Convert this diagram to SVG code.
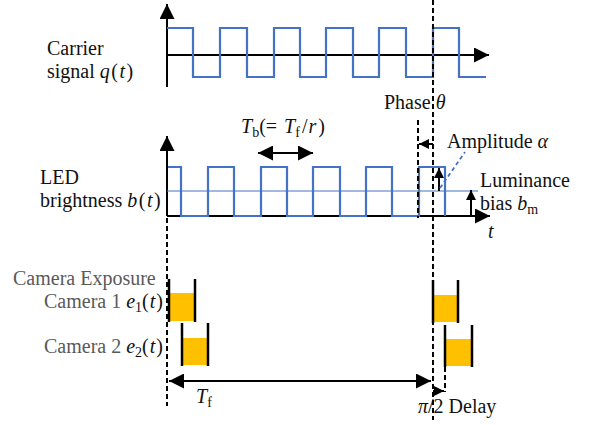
<svg xmlns="http://www.w3.org/2000/svg" width="590" height="425" viewBox="0 0 590 425">
<defs>
<style>
text{font-family:"Liberation Serif","Times New Roman",serif;font-size:20px;fill:#111}
.gray{fill:#595959}
.it{font-style:italic}
.sub{font-size:14px}
.m{letter-spacing:1.5px}
.ax{stroke:#000;stroke-width:2;fill:none}
.wave{stroke:#4472C4;stroke-width:2.2;fill:none}
.bias{stroke:#4472C4;stroke-width:1.2;fill:none}
.dash{stroke:#000;stroke-width:2;stroke-dasharray:5,3;fill:none}
.bar{stroke:#000;stroke-width:2.5}
.fill{fill:#FFC000}
</style>
<marker id="ah" viewBox="0 0 10 10" refX="10" refY="5" markerWidth="15" markerHeight="15" markerUnits="userSpaceOnUse" orient="auto-start-reverse"><path d="M0,0 L10,5 L0,10 z" fill="#000"/></marker>
<marker id="ahs" viewBox="0 0 10 10" refX="10" refY="5" markerWidth="10" markerHeight="10" markerUnits="userSpaceOnUse" orient="auto-start-reverse"><path d="M0,0 L10,5 L0,10 z" fill="#000"/></marker>
</defs>
<rect width="590" height="425" fill="#fff"/>

<g id="carrier">
<line class="ax" x1="167" y1="87" x2="167" y2="4" marker-end="url(#ah)"/>
<line class="ax" x1="167" y1="55" x2="489" y2="55" marker-end="url(#ah)"/>
<path class="wave" d="M167,28 H193 V77 H220 V28 H247 V77 H274 V28 H300 V77 H326 V28 H353 V77 H379 V28 H406 V77 H433 V28 H459 V77 H486"/>
<text x="47" y="55">Carrier</text>
<text x="47" y="78">signal <tspan class="m"><tspan class="it">q</tspan>(<tspan class="it">t</tspan></tspan>)</text>
</g>

<g id="led">
<line class="ax" x1="167" y1="216" x2="167" y2="136" marker-end="url(#ah)"/>
<line class="ax" x1="167" y1="216" x2="490" y2="216" marker-end="url(#ah)"/>
<line class="bias" x1="167" y1="191" x2="478" y2="191"/>
<path class="wave" d="M168,167 H181 V216 H208 V167 H234 V216 H261 V167 H287 V216 H313 V167 H340 V216 H366 V167 H392 V216 H419 V167 H445 V216"/>
<text x="40" y="184">LED</text>
<text x="40" y="207">brightness <tspan class="m"><tspan class="it">b</tspan>(<tspan class="it">t</tspan></tspan>)</text>
<text x="488" y="238" class="it">t</text>
</g>

<g id="tb">
<line class="ax" x1="258" y1="153" x2="313" y2="153" marker-start="url(#ah)" marker-end="url(#ah)"/>
<text x="241" y="133"><tspan class="it">T</tspan><tspan class="sub" dy="4">b</tspan><tspan dy="-4">(= </tspan><tspan class="it" dx="2">T</tspan><tspan class="sub" dy="4">f</tspan><tspan dy="-4" dx="2">/</tspan><tspan class="it" dx="1">r</tspan><tspan dx="2">)</tspan></text>
</g>

<g id="phase">
<line class="dash" x1="433" y1="0" x2="433" y2="420"/>
<line class="dash" x1="418" y1="120" x2="418" y2="218"/>
<line class="ax" x1="433" y1="144" x2="419" y2="144" stroke-width="1.5" marker-end="url(#ahs)"/>
<text x="384" y="109">Phase <tspan class="it">θ</tspan></text>
</g>

<g id="amplitude">
<line class="ax" x1="439" y1="191" x2="439" y2="168" marker-end="url(#ahs)"/>
<line stroke="#4472C4" stroke-width="1.8" stroke-dasharray="4,3" x1="440" y1="188" x2="465" y2="152"/>
<text x="447" y="148">Amplitude <tspan class="it">α</tspan></text>
</g>

<g id="luminance">
<line class="ax" x1="471" y1="216" x2="471" y2="190" marker-end="url(#ahs)"/>
<text x="480" y="187">Luminance</text>
<text x="480" y="210">bias <tspan class="it">b</tspan><tspan class="sub" dy="4">m</tspan></text>
</g>

<g id="camera">
<line class="dash" x1="167" y1="218" x2="167" y2="406"/>
<text x="13" y="285" class="gray">Camera Exposure</text>
<text x="163" y="308" text-anchor="end" class="gray">Camera 1 <tspan class="it" fill="#111">e</tspan><tspan class="sub" dy="4" fill="#111">1</tspan><tspan dy="-4" fill="#111">(</tspan><tspan class="it" fill="#111" dx="1">t</tspan><tspan fill="#111" dx="1">)</tspan></text>
<text x="163" y="353" text-anchor="end" class="gray">Camera 2 <tspan class="it" fill="#111">e</tspan><tspan class="sub" dy="4" fill="#111">2</tspan><tspan dy="-4" fill="#111">(</tspan><tspan class="it" fill="#111" dx="1">t</tspan><tspan fill="#111" dx="1">)</tspan></text>
</g>

<g id="cam1-left">
<rect class="fill" x="169" y="293" width="26" height="28"/>
<line class="bar" x1="169" y1="279" x2="169" y2="322"/>
<line class="bar" x1="195" y1="279" x2="195" y2="322"/>
</g>
<g id="cam2-left">
<rect class="fill" x="182" y="338" width="26" height="27"/>
<line class="bar" x1="182" y1="323" x2="182" y2="366"/>
<line class="bar" x1="208" y1="323" x2="208" y2="366"/>
</g>
<g id="cam1-right">
<rect class="fill" x="433" y="295" width="25" height="27"/>
<line class="bar" x1="433" y1="280" x2="433" y2="323"/>
<line class="bar" x1="458" y1="280" x2="458" y2="323"/>
</g>
<g id="cam2-right">
<rect class="fill" x="445" y="339" width="27" height="27"/>
<line class="bar" x1="445" y1="325" x2="445" y2="367"/>
<line class="bar" x1="472" y1="325" x2="472" y2="367"/>
</g>

<g id="connectors">
<line class="ax" x1="169" y1="381" x2="431" y2="381" marker-start="url(#ah)" marker-end="url(#ah)"/>
<line class="dash" x1="445" y1="367" x2="445" y2="392"/>
<line class="ax" x1="433" y1="391" x2="444" y2="391" stroke-width="1.5" marker-end="url(#ahs)"/>
<text x="196" y="403" class="it">T<tspan class="sub" dy="4" font-style="normal">f</tspan></text>
<text x="418" y="413"><tspan class="it">π</tspan>/2 Delay</text>
</g>
</svg>
